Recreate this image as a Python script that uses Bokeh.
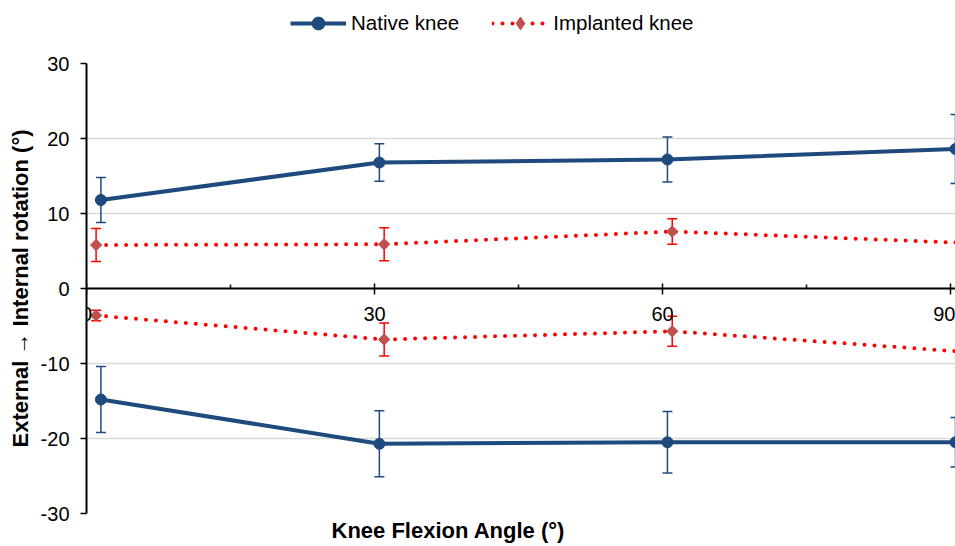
import numpy as np
from bokeh.plotting import figure
from bokeh.layouts import column
from bokeh.models import (Range1d, FixedTicker, Whisker, ColumnDataSource, Legend,
                          LegendItem, Title, TeeHead)
from bokeh.embed import file_html
from bokeh.resources import INLINE

# ---- data ----
x_ticks = [0, 30, 60, 90]
x_minor = [15, 45, 75]
y_ticks = [-30, -20, -10, 0, 10, 20, 30]

angle_native = [1.5, 30.5, 60.5, 90.5]
angle_implant = [1.0, 31.0, 61.0, 91.0]

native_internal = [11.8, 16.8, 17.2, 18.6]
native_internal_sd = [3.0, 2.5, 3.0, 4.6]
native_external = [-14.8, -20.7, -20.5, -20.5]
native_external_sd = [4.4, 4.4, 4.1, 3.3]

implant_internal = [5.8, 5.9, 7.6, 6.1]
implant_internal_sd = [2.2, 2.2, 1.7, 1.5]
implant_external = [-3.6, -6.8, -5.7, -8.4]
implant_external_sd = [0.7, 2.2, 2.0, 1.5]

series_names = ["Native knee", "Implanted knee"]

NAVY = "#1f4a7e"
RED = "#ff0000"
DIAMOND = "#c0504d"
FONT = "Liberation Sans"
W = 955


def src(x, m, sd):
    m = np.array(m)
    sd = np.array(sd)
    return ColumnDataSource(dict(x=x, y=m, upper=m + sd, lower=m - sd))


def native_style(fig, s):
    l = fig.line("x", "y", source=s, line_color=NAVY, line_width=4)
    c = fig.scatter("x", "y", source=s, marker="circle", size=11,
                    fill_color=NAVY, line_color=NAVY)
    return [l, c]


def implant_style(fig, s, marker="square", angle=np.pi / 4):
    l = fig.line("x", "y", source=s, line_color=RED, line_width=4,
                 line_dash="0 10", line_cap="round")
    d = fig.scatter("x", "y", source=s, marker=marker, angle=angle, size=8,
                    fill_color=DIAMOND, line_color=DIAMOND)
    return [l, d]


# ---------------- main chart ----------------
p = figure(width=W, height=495, output_backend="svg", toolbar_location=None,
           x_range=Range1d(0, 90.5), y_range=Range1d(-30, 30),
           min_border_left=86, min_border_right=0, min_border_top=12,
           min_border_bottom=33)
p.outline_line_color = None
p.background_fill_color = "white"

p.xaxis.fixed_location = 0
p.xaxis.ticker = FixedTicker(ticks=x_ticks, minor_ticks=x_minor)
p.xaxis.major_label_overrides = {t: str(t) for t in x_ticks}
p.xaxis.major_tick_in = 5
p.xaxis.major_tick_out = 6
p.xaxis.minor_tick_in = 4
p.xaxis.minor_tick_out = 0
p.xaxis.axis_line_width = 2
p.xaxis.major_tick_line_width = 1.5
p.xaxis.minor_tick_line_width = 1.5
p.xaxis.major_label_standoff = 12
p.xaxis.major_label_text_font = FONT
p.xaxis.major_label_text_font_size = "20px"
p.xaxis.major_label_text_color = "black"

p.yaxis.ticker = FixedTicker(ticks=y_ticks)
p.yaxis.major_label_overrides = {t: str(t) for t in y_ticks}
p.yaxis.minor_tick_line_color = None
p.yaxis.major_tick_in = 0
p.yaxis.major_tick_out = 6
p.yaxis.axis_line_width = 2
p.yaxis.major_tick_line_width = 1.5
p.yaxis.major_label_standoff = 11
p.yaxis.major_label_text_font = FONT
p.yaxis.major_label_text_font_size = "20px"
p.yaxis.major_label_text_color = "black"
p.yaxis.axis_label = "External \u2192 Internal rotation (\u00b0)"
p.yaxis.axis_label_text_font = FONT
p.yaxis.axis_label_text_font_size = "22px"
p.yaxis.axis_label_text_font_style = "bold"
p.yaxis.axis_label_text_color = "black"
p.yaxis.axis_label_standoff = 5

p.xgrid.visible = False
p.ygrid.ticker = FixedTicker(ticks=y_ticks)
p.ygrid.grid_line_color = "#d9d9d9"
p.ygrid.grid_line_width = 1.5

p.add_layout(Title(text="Knee Flexion Angle (\u00b0)", align="left", offset=245,
                   text_font=FONT, text_font_size="22px", text_font_style="bold",
                   text_color="black", standoff=5), "below")

sources_native = [src(angle_native, native_internal, native_internal_sd),
                  src(angle_native, native_external, native_external_sd)]
sources_implant = [src(angle_implant, implant_internal, implant_internal_sd),
                   src(angle_implant, implant_external, implant_external_sd)]

for s in sources_native:
    p.add_layout(Whisker(source=s, base="x", upper="upper", lower="lower",
                         line_color=NAVY, line_width=1.5, level="underlay",
                         upper_head=TeeHead(size=10, line_color=NAVY, line_width=1.5),
                         lower_head=TeeHead(size=10, line_color=NAVY, line_width=1.5)))
    native_style(p, s)

for s in sources_implant:
    p.add_layout(Whisker(source=s, base="x", upper="upper", lower="lower",
                         line_color=RED, line_width=1.5, level="underlay",
                         upper_head=TeeHead(size=10, line_color=RED, line_width=1.5),
                         lower_head=TeeHead(size=10, line_color=RED, line_width=1.5)))
    implant_style(p, s)

# ---------------- legend strip (its ranges show no data; only the legend) ----------------
lf = figure(width=W, height=51, output_backend="svg", toolbar_location=None,
            x_range=Range1d(-200, -199), y_range=Range1d(-200, -199),
            x_axis_type=None, y_axis_type=None, min_border=0)
lf.outline_line_color = None
lf.grid.visible = False
r_native = native_style(lf, sources_native[0])
r_implant = implant_style(lf, sources_implant[0], marker="diamond", angle=0)

legend = Legend(items=[LegendItem(label=series_names[0], renderers=r_native),
                       LegendItem(label=series_names[1], renderers=r_implant)],
                location=(204, 12), orientation="horizontal",
                border_line_color=None, background_fill_alpha=0,
                padding=0, margin=0, spacing=33, glyph_width=56, glyph_height=32,
                label_standoff=5, label_text_font=FONT, label_text_font_size="20.5px",
                label_text_color="black")
lf.add_layout(legend)

layout = column(lf, p, spacing=0)
open("out.html", "w").write(file_html(layout, INLINE))
